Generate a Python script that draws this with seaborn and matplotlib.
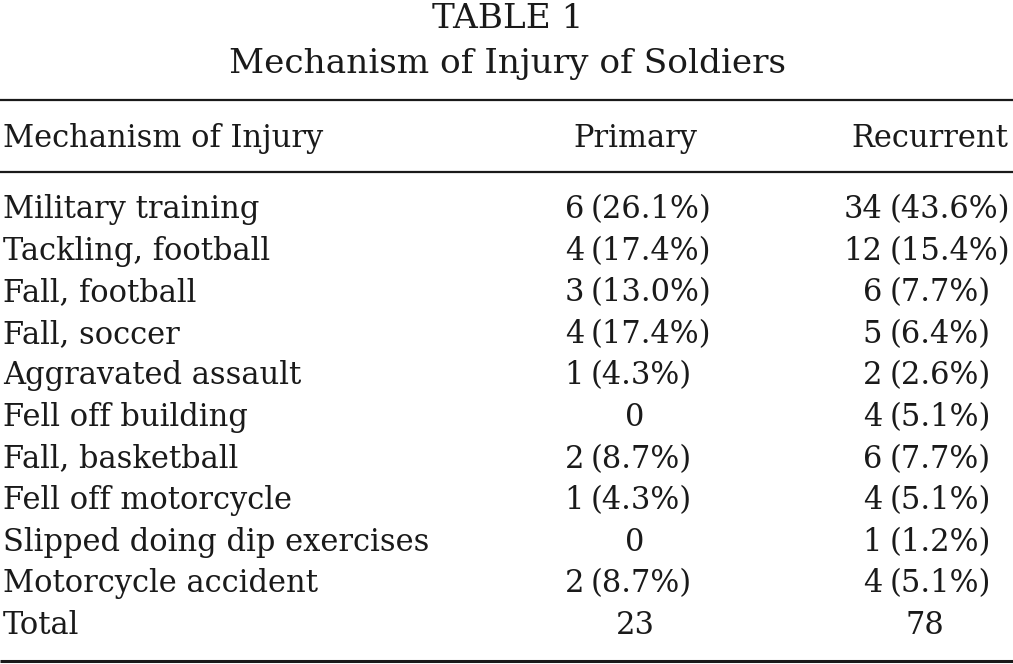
import matplotlib
matplotlib.use("Agg")
import matplotlib.pyplot as plt
import seaborn as sns

# ---- data ----
title_line1 = "TABLE 1"
title_line2 = "Mechanism of Injury of Soldiers"
col_headers = ["Mechanism of Injury", "Primary", "Recurrent"]
mechanisms = [
    "Military training", "Tackling, football", "Fall, football", "Fall, soccer",
    "Aggravated assault", "Fell off building", "Fall, basketball",
    "Fell off motorcycle", "Slipped doing dip exercises", "Motorcycle accident",
    "Total",
]
primary_n = [6, 4, 3, 4, 1, 0, 2, 1, 0, 2, 23]
primary_pct = [26.1, 17.4, 13.0, 17.4, 4.3, None, 8.7, 4.3, None, 8.7, None]
recurrent_n = [34, 12, 6, 5, 2, 4, 6, 4, 1, 4, 78]
recurrent_pct = [43.6, 15.4, 7.7, 6.4, 2.6, 5.1, 7.7, 5.1, 1.2, 5.1, None]

sns.set_theme(style="white")
plt.rcParams["font.family"] = ["DejaVu Serif"]
plt.rcParams["text.color"] = "#1a1a1a"

W, H = 1013, 664
fig = plt.figure(figsize=(W / 100, H / 100), dpi=100)
ax = fig.add_axes([0, 0, 1, 1])
ax.set_xlim(0, W)
ax.set_ylim(H, 0)
ax.axis("off")

# calibrate font size so header width matches reference
probe = ax.text(0, 0, col_headers[0], fontsize=20)
fig.canvas.draw()
w = probe.get_window_extent().width
probe.remove()
fs = 20 * 320 / w
fs_title = fs * 1.12

ink = "#1a1a1a"
ax.text(W / 2 + 1, 28, title_line1, ha="center", va="baseline", fontsize=fs_title, color=ink)
ax.text(W / 2 + 1, 73, title_line2, ha="center", va="baseline", fontsize=fs_title, color=ink)

ax.hlines([100, 172], 0, W, color=ink, lw=1.6)
ax.hlines([661], 0, W, color=ink, lw=2.2)

ax.text(3, 147, col_headers[0], ha="left", va="baseline", fontsize=fs, color=ink)
ax.text(635, 147, col_headers[1], ha="center", va="baseline", fontsize=fs, color=ink)
ax.text(1008, 147, col_headers[2], ha="right", va="baseline", fontsize=fs, color=ink)

row0, step = 218, 41.6
cols = [
    (primary_n, primary_pct, 584, 591, 635),
    (recurrent_n, recurrent_pct, 882, 890, 925),
]
for i, name in enumerate(mechanisms):
    y = row0 + i * step
    ax.text(3, y, name, ha="left", va="baseline", fontsize=fs, color=ink)
    for ns, pcts, xr, xl, xc in cols:
        n, p = ns[i], pcts[i]
        if p is None:
            ax.text(xc, y, f"{n}", ha="center", va="baseline", fontsize=fs, color=ink)
        else:
            ax.text(xr, y, f"{n}", ha="right", va="baseline", fontsize=fs, color=ink)
            ax.text(xl, y, f"({p:.1f}%)", ha="left", va="baseline", fontsize=fs, color=ink)

fig.savefig("out.png", dpi=100, facecolor="white")
